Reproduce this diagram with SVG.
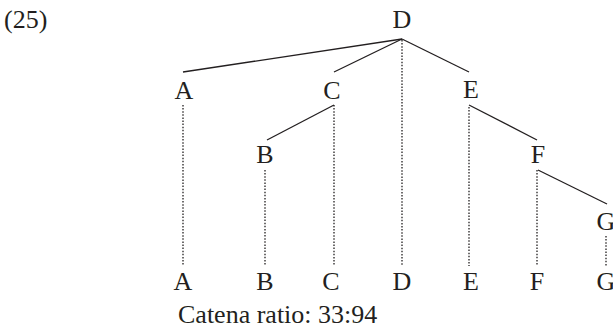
<svg xmlns="http://www.w3.org/2000/svg" width="613" height="332" viewBox="0 0 613 332">
<style>
text{font-family:"Liberation Serif","Times New Roman",serif;font-size:26px;fill:#231f20;text-anchor:middle}
.s{stroke:#231f20;stroke-width:1.3;fill:none}
.d{stroke:#231f20;stroke-width:1.3;stroke-dasharray:1.5 1.6;fill:none}
</style>
<rect width="613" height="332" fill="#fff"/>
<text x="4" y="28" style="text-anchor:start">(25)</text>
<g id="edges">
<line class="s" x1="402" y1="39" x2="183" y2="72"/>
<line class="s" x1="402" y1="39" x2="334" y2="72"/>
<line class="s" x1="402" y1="39" x2="469" y2="72"/>
<line class="s" x1="334" y1="105" x2="267" y2="140"/>
<line class="s" x1="469" y1="105" x2="537" y2="140"/>
<line class="s" x1="538" y1="170" x2="607" y2="204"/>
<line class="d" x1="402" y1="40" x2="402" y2="266"/>
<line class="d" x1="183" y1="105" x2="183" y2="266"/>
<line class="d" x1="334" y1="105" x2="334" y2="266"/>
<line class="d" x1="469" y1="107" x2="469" y2="266"/>
<line class="d" x1="265" y1="170" x2="265" y2="266"/>
<line class="d" x1="537" y1="170" x2="537" y2="266"/>
<line class="d" x1="606" y1="236" x2="606" y2="266"/>
</g>
<g id="nD"><text x="402" y="28">D</text></g>
<g id="nA"><text x="184" y="99">A</text></g>
<g id="nC"><text x="332" y="99">C</text></g>
<g id="nE"><text x="471" y="98">E</text></g>
<g id="nB"><text x="265" y="163">B</text></g>
<g id="nF"><text x="538" y="163">F</text></g>
<g id="nG"><text x="606" y="230">G</text></g>
<g id="bottom">
<text x="183" y="290">A</text>
<text x="265" y="290">B</text>
<text x="331" y="290">C</text>
<text x="402" y="290">D</text>
<text x="471" y="290">E</text>
<text x="537" y="290">F</text>
<text x="606" y="290">G</text>
</g>
<text x="178" y="323" style="text-anchor:start">Catena ratio: 33:94</text>
</svg>
